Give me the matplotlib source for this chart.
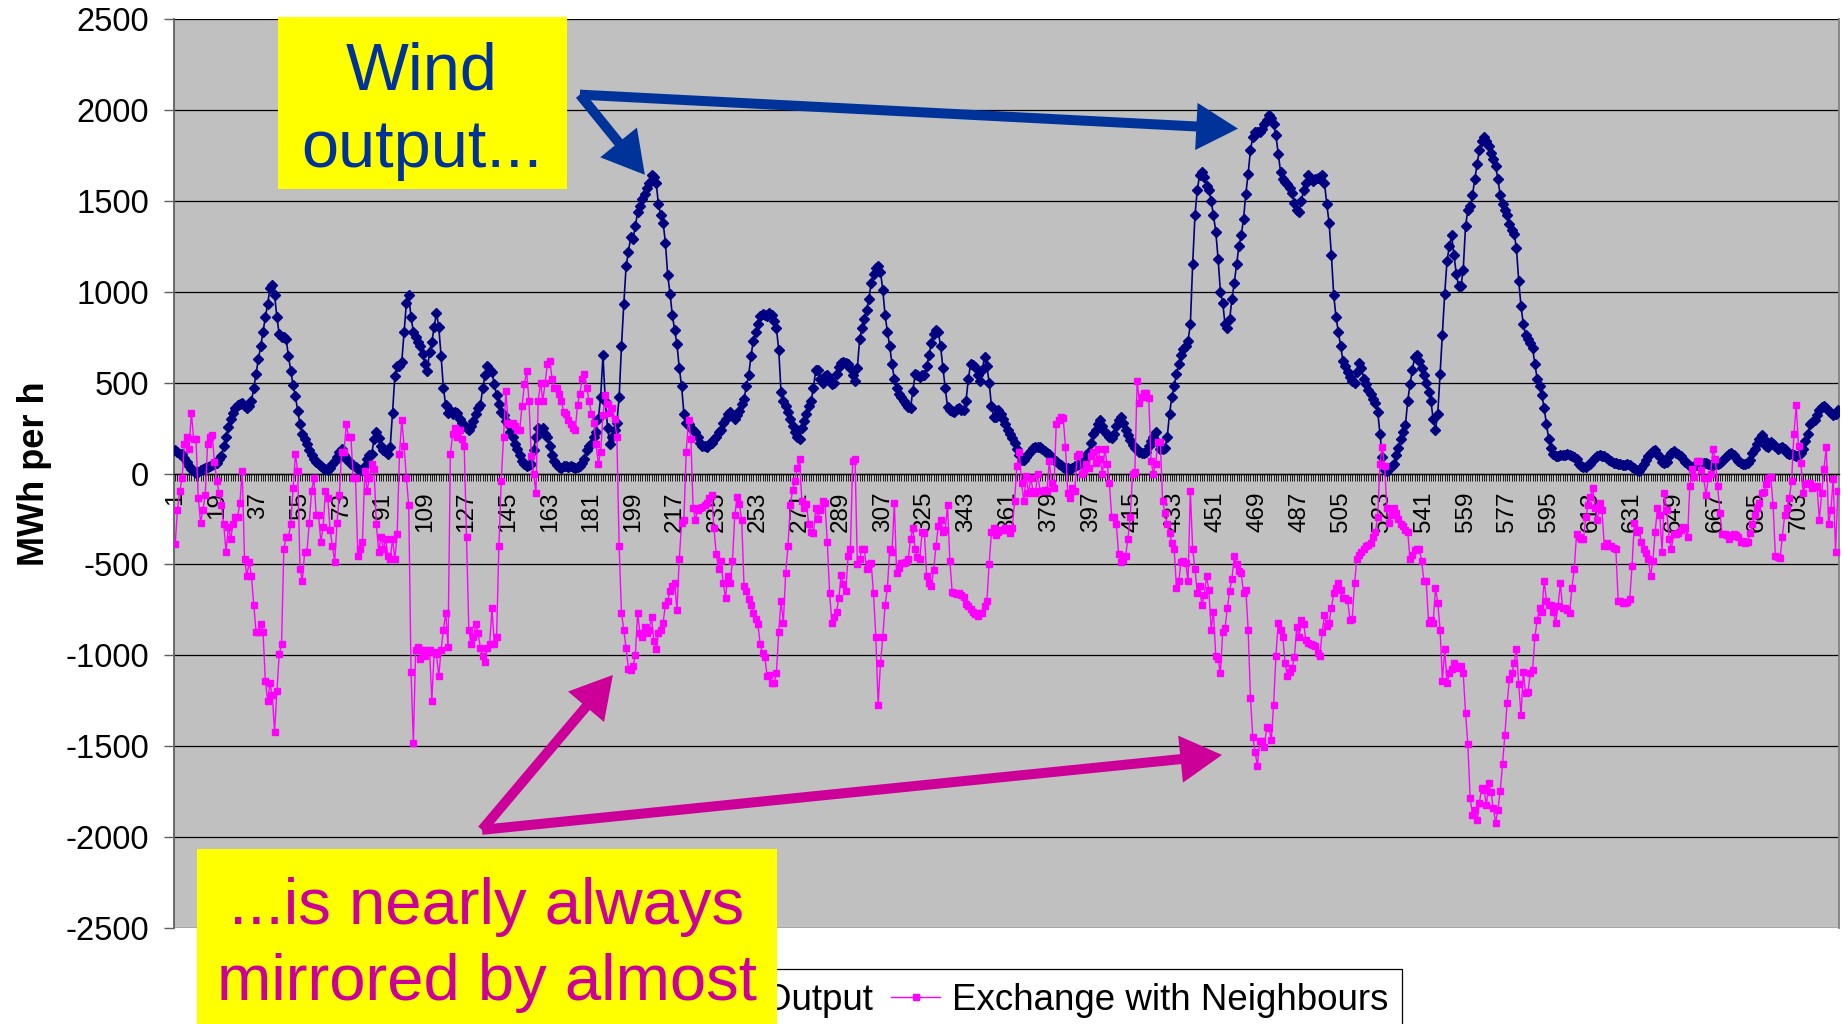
import numpy as np
import matplotlib
matplotlib.use("Agg")
import matplotlib.pyplot as plt
from matplotlib.patches import Rectangle

plt.rcParams["font.family"] = "Liberation Sans"

# hourly values, MWh per h
wind_output = [
    130, 120, 110, 105, 85, 65, 40, 25, 15, 5,
    10, 20, 27, 30, 35, 40, 45, 50, 60, 80,
    95, 150, 200, 255, 300, 335, 360, 375, 380, 390,
    370, 360, 370, 400, 470, 550, 630, 700, 780, 860,
    930, 1020, 1035, 980, 860, 765, 750, 750, 740, 645,
    565, 485, 425, 345, 270, 220, 190, 160, 130, 100,
    80, 65, 55, 40, 32, 25, 20, 32, 50, 67,
    90, 120, 135, 100, 80, 67, 55, 48, 35, 27,
    22, 18, 40, 80, 100, 107, 188, 228, 193, 153,
    130, 120, 107, 148, 335, 535, 590, 590, 615, 780,
    940, 980, 860, 780, 750, 725, 700, 660, 605, 565,
    670, 725, 805, 885, 805, 645, 470, 375, 335, 350,
    330, 340, 335, 300, 280, 265, 250, 240, 260, 290,
    330, 360, 375, 470, 540, 590, 570, 560, 490, 430,
    380, 340, 320, 290, 270, 230, 200, 160, 135, 100,
    70, 50, 40, 45, 55, 130, 200, 250, 240, 250,
    220, 200, 150, 100, 70, 45, 35, 30, 40, 40,
    35, 40, 35, 30, 35, 40, 60, 80, 130, 150,
    160, 200, 230, 300, 420, 650, 400, 250, 160, 200,
    240, 280, 420, 700, 930, 1140, 1220, 1300, 1290, 1360,
    1440, 1470, 1510, 1540, 1570, 1600, 1640, 1630, 1600, 1480,
    1420, 1380, 1270, 1090, 990, 870, 790, 710, 580, 480,
    330, 280, 270, 250, 240, 230, 200, 170, 150, 150,
    145, 160, 170, 190, 200, 230, 240, 280, 300, 330,
    340, 320, 300, 320, 345, 380, 410, 480, 540, 645,
    730, 780, 820, 865, 875, 870, 865, 885, 870, 840,
    800, 680, 450, 400, 370, 340, 300, 260, 230, 200,
    190, 250, 290, 330, 370, 400, 470, 570, 570, 520,
    500, 535, 540, 520, 495, 500, 550, 585, 610, 615,
    610, 600, 580, 540, 510, 580, 740, 800, 850, 900,
    960, 1050, 1100, 1130, 1140, 1110, 1010, 870, 780, 700,
    600, 520, 470, 440, 420, 400, 380, 365, 360, 455,
    545, 540, 530, 540, 540, 590, 650, 720, 770, 790,
    780, 700, 580, 470, 365, 350, 345, 340, 355, 360,
    350, 350, 400, 520, 605, 595, 585, 540, 510, 570,
    640, 590, 500, 370, 310, 310, 350, 330, 300, 270,
    240, 220, 195, 170, 135, 100, 75, 75, 90, 110,
    125, 140, 148, 148, 145, 135, 125, 115, 105, 85,
    75, 70, 55, 45, 35, 30, 28, 25, 30, 40,
    45, 55, 65, 80, 100, 120, 170, 215, 240, 275,
    295, 260, 230, 215, 200, 195, 215, 260, 295, 310,
    280, 240, 210, 185, 155, 140, 135, 120, 115, 112,
    120, 150, 180, 200, 230, 170, 135, 135, 140, 200,
    330, 420, 480, 550, 600, 650, 685, 700, 730, 820,
    1150, 1420, 1560, 1640, 1660, 1630, 1580, 1560, 1500, 1420,
    1330, 1180, 1000, 940, 820, 800, 850, 960, 1050, 1150,
    1250, 1310, 1400, 1540, 1650, 1780, 1850, 1880, 1880, 1880,
    1895, 1920, 1945, 1970, 1955, 1920, 1860, 1760, 1660, 1620,
    1605, 1590, 1570, 1545, 1490, 1450, 1440, 1500, 1560, 1600,
    1640, 1620, 1610, 1620, 1625, 1630, 1640, 1600, 1480, 1380,
    1200, 980, 860, 780, 700, 620, 590, 560, 530, 510,
    500, 560, 610, 580, 520, 490, 460, 440, 410, 390,
    340, 220, 90, 20, 15, 25, 40, 55, 100, 140,
    190, 230, 265, 400, 490, 570, 640, 650, 620, 580,
    540, 500, 450, 400, 300, 240, 330, 550, 760, 990,
    1170, 1250, 1310, 1200, 1100, 1030, 1030, 1120, 1360, 1450,
    1470, 1530, 1620, 1700, 1780, 1830, 1850, 1830, 1800, 1765,
    1730, 1690, 1620, 1530, 1480, 1450, 1420, 1370, 1340, 1320,
    1240, 1060, 920, 820, 760, 740, 720, 690, 600, 520,
    480, 430, 360, 270, 190, 140, 105, 95, 95, 100,
    100, 100, 105, 100, 95, 90, 80, 55, 40, 35,
    38, 45, 55, 75, 85, 95, 100, 98, 94, 85,
    75, 68, 60, 58, 55, 50, 48, 46, 50, 45,
    35, 28, 20, 13, 30, 55, 75, 95, 115, 125,
    128, 110, 90, 65, 60, 65, 95, 115, 125, 115,
    105, 95, 80, 65, 50, 40, 32, 40, 48, 55,
    60, 58, 56, 52, 48, 48, 50, 54, 58, 70,
    85, 94, 105, 113, 100, 85, 70, 60, 55, 52,
    60, 75, 115, 135, 160, 190, 210, 190, 150, 145,
    175, 165, 150, 135, 140, 148, 135, 115, 110, 105,
    100, 95, 100, 115, 135, 180, 215, 270, 285, 295,
    320, 350, 365, 370, 360, 345, 335, 320, 330, 350,
]

exchange_neighbours = [
    -390, -200, -95, -27, 160, 200, 135, 335, 190, 190,
    -135, -270, -200, -120, 160, 200, 210, 65, -40, -107,
    -175, -280, -430, -295, -360, -280, -240, -240, -160, 13,
    -470, -565, -485, -565, -725, -870, -870, -830, -870, -1140,
    -1250, -1155, -1220, -1420, -1195, -995, -940, -415, -350, -350,
    -280, -80, 105, 13, -525, -590, -430, -430, -270, -95,
    -27, -230, -230, -375, -295, -95, -135, -310, -400, -485,
    -270, -120, 120, 120, 270, 200, 200, -27, -27, -455,
    -415, -375, 13, -95, -27, 55, 27, -280, -430, -350,
    -415, -360, -455, -470, -360, -470, -335, 105, 295, 150,
    -27, -175, -1090, -1480, -970, -955, -1020, -970, -1005, -970,
    -970, -1250, -980, -995, -1115, -970, -860, -765, -955, 105,
    215, 250, 200, 240, 190, 150, -350, -860, -940, -900,
    -830, -880, -960, -1005, -1035, -960, -940, -740, -940, -900,
    -400, -40, 200, 455, 280, 270, 280, 260, 240, 240,
    370, 490, 565, 400, 95, 0, -107, 400, 500, 400,
    500, 605, 620, 520, 470, 470, 440, 400, 340, 330,
    295, 270, 250, 240, 375, 440, 520, 550, 470, 400,
    330, 280, 160, 55, 120, 320, 430, 380, 335, 360,
    300, 200, -400, -765, -860, -960, -1075, -1080, -1060, -1000,
    -765, -880, -900, -845, -880, -860, -790, -920, -965, -880,
    -860, -820, -725, -700, -645, -620, -605, -750, -470, -270,
    -255, 120, 295, 190, -190, -255, -200, -190, -185, -175,
    -160, -135, -120, -300, -445, -525, -480, -600, -685, -565,
    -600, -480, -230, -130, -170, -255, -620, -645, -690, -725,
    -765, -800, -830, -940, -990, -1010, -1115, -1110, -1155, -1150,
    -1100, -870, -700, -820, -550, -400, -175, -90, -40, 30,
    80, -150, -190, -170, -280, -320, -330, -190, -250, -200,
    -150, -160, -375, -660, -820, -790, -760, -685, -560, -610,
    -645, -455, -415, 70, 80, -500, -470, -415, -415, -525,
    -500, -495, -660, -900, -1275, -1045, -900, -725, -630, -415,
    -430, -160, -550, -520, -495, -490, -485, -470, -360, -300,
    -415, -460, -470, -320, -330, -565, -600, -620, -530, -400,
    -290, -255, -320, -310, -175, -480, -650, -660, -665, -660,
    -670, -680, -720, -730, -745, -760, -775, -785, -770, -770,
    -730, -700, -500, -320, -300, -340, -320, -310, -310, -300,
    -310, -330, -300, -150, 40, 120, -50, -150, -13, -107,
    -27, -95, -107, 0, -95, -95, -90, -95, 67, -55,
    -80, 270, 295, 310, 305, 148, -107, -135, -80, -95,
    94, 107, 0, 13, 55, 30, 94, 120, 60, 135,
    80, 0, 135, 55, -55, -240, -240, -280, -445, -485,
    -475, -455, -360, -240, 0, 10, 510, 390, 420, 445,
    445, 415, 67, 0, 55, 175, 175, -150, -215, -280,
    -330, -380, -415, -630, -590, -485, -480, -490, -590, -95,
    -415, -525, -660, -620, -725, -670, -565, -640, -860, -760,
    -1005, -1020, -1100, -870, -850, -740, -645, -580, -455, -500,
    -535, -545, -660, -640, -860, -1235, -1450, -1530, -1610, -1470,
    -1470, -1505, -1395, -1400, -1465, -1275, -1005, -820, -860, -900,
    -1045, -1115, -1090, -1070, -1010, -845, -900, -805, -830, -915,
    -930, -940, -945, -950, -990, -1005, -870, -780, -840, -820,
    -740, -660, -630, -605, -640, -685, -685, -695, -805, -800,
    -605, -470, -450, -430, -415, -400, -395, -380, -350, -320,
    -240, 54, 148, 40, -190, -270, -230, -190, -215, -250,
    -280, -290, -310, -320, -470, -450, -420, -415, -415, -480,
    -590, -590, -820, -805, -820, -630, -710, -860, -1140, -965,
    -1155, -1100, -1075, -1040, -1060, -1070, -1060, -1100, -1315, -1490,
    -1785, -1880, -1850, -1905, -1810, -1730, -1740, -1825, -1705, -1750,
    -1840, -1920, -1850, -1745, -1600, -1440, -1260, -1130, -1100, -1045,
    -965, -1160, -1330, -1090, -1210, -1200, -1100, -1080, -900, -805,
    -740, -760, -590, -700, -725, -725, -760, -820, -730, -605,
    -740, -740, -750, -765, -630, -525, -335, -350, -360, -360,
    -240, -175, -130, -80, -190, -255, -160, -200, -400, -380,
    -400, -400, -410, -415, -700, -700, -710, -710, -705, -690,
    -510, -270, -320, -310, -375, -415, -440, -470, -565, -480,
    -320, -190, -230, -430, -107, -200, -360, -415, -335, -335,
    -330, -310, -295, -300, -350, -67, 27, -20, 67, 67,
    20, -27, -120, -27, 0, 135, 80, -67, -215, -335,
    -335, -340, -360, -345, -335, -340, -350, -375, -370, -380,
    -375, -330, -280, -230, -190, -160, -107, -100, -60, -27,
    -20, -175, -455, -460, -465, -350, -230, -190, -135, -40,
    215, 375, 150, 60, -107, -60, -50, -55, -80, -75,
    -70, -255, -110, 27, 148, -280, -200, -30, -430, -95,
]

hours = np.arange(1, len(wind_output) + 1)
label_every = 18
y_ticks = list(range(-2500, 2501, 500))

W, H = 1843, 1024
fig = plt.figure(figsize=(W / 100, H / 100), dpi=100)
ax = fig.add_axes([174 / W, 1 - 928 / H, (1839 - 174) / W, (928 - 19) / H])
ax.set_facecolor("#C0C0C0")

ax.plot(hours, wind_output, color="#000080", lw=1.2, marker="D", ms=4.8,
        mec="#000080", mfc="#000080", label="Wind Output", zorder=3)
ax.plot(hours, exchange_neighbours, color="#FF00FF", lw=1.0, marker="s", ms=5.0,
        mec="#FF00FF", mfc="#FF00FF", label="Exchange with Neighbours", zorder=4)

ax.set_xlim(0.5, len(hours) + 0.5)
ax.set_ylim(-2500, 2500)
ax.set_yticks(y_ticks)
ax.set_yticklabels([str(v) for v in y_ticks])
ax.yaxis.grid(True, color="black", lw=0.9)
ax.set_axisbelow(True)

# category axis crosses the value axis at zero
ax.spines["bottom"].set_position(("data", 0))
ax.spines["bottom"].set_color("black")
ax.spines["bottom"].set_linewidth(1.0)
ax.spines["top"].set_visible(False)
ax.spines["left"].set_color("#606060")
ax.spines["left"].set_linewidth(1.3)
ax.spines["right"].set_color("#808080")
ax.spines["right"].set_linewidth(1.3)

ax.set_xticks(hours)
ax.set_xticklabels([str(h) if (h - 1) % label_every == 0 else "" for h in hours],
                   rotation=90)
ax.tick_params(axis="x", direction="out", length=5, width=0.6, color="black",
               labelsize=17.5, pad=8)
ax.tick_params(axis="y", direction="out", length=7, width=1.0, color="#606060",
               labelsize=23.5, pad=11)

ax.set_ylabel("MWh per h", fontsize=26, fontweight="bold")
ax.yaxis.set_label_coords(-0.073, 0.5)

# callout arrows (hour, MWh)
navy = "#003399"
plum = "#CC0099"
wind_from = (176.0, 2084)
wind_tips = [(204.1, 1643), (460.6, 1897)]
exch_from = (133.7, -1960)
exch_tips = [(190.3, -1108), (453.7, -1548)]
style = "simple,head_length=30,head_width=34,tail_width=7.2"
for tip in wind_tips:
    ax.annotate("", xy=tip, xytext=wind_from, annotation_clip=False,
                arrowprops=dict(arrowstyle=style, mutation_scale=1, color=navy,
                                lw=0, shrinkA=0, shrinkB=0), zorder=6)
for tip in exch_tips:
    ax.annotate("", xy=tip, xytext=exch_from, annotation_clip=False,
                arrowprops=dict(arrowstyle=style, mutation_scale=1, color=plum,
                                lw=0, shrinkA=0, shrinkB=0), zorder=6)

leg = fig.legend(loc="upper right", bbox_to_anchor=(1402 / W, 1 - 969 / H),
                 ncol=2, fontsize=26.5, frameon=True, fancybox=False,
                 edgecolor="black", framealpha=1, borderaxespad=0,
                 handlelength=1.35, handletextpad=0.3, columnspacing=0.5,
                 borderpad=0.38)
leg.get_frame().set_linewidth(0.9)

# yellow call-out boxes
fig.add_artist(Rectangle((278 / W, 1 - 189 / H), 289 / W, 172 / H,
                         transform=fig.transFigure, facecolor="#FFFF00",
                         edgecolor="none", zorder=10))
fig.text(422 / W, 1 - 90 / H, "Wind", ha="center", va="baseline",
         fontsize=48, color=navy, zorder=11)
fig.text(422 / W, 1 - 167 / H, "output...", ha="center", va="baseline",
         fontsize=48, color=navy, zorder=11)

fig.add_artist(Rectangle((197 / W, 0), 580 / W, (1024 - 849) / H,
                         transform=fig.transFigure, facecolor="#FFFF00",
                         edgecolor="none", zorder=10))
fig.text(487 / W, 1 - 924 / H, "...is nearly always", ha="center", va="baseline",
         fontsize=47, color=plum, zorder=11)
fig.text(487 / W, 1 - 1000 / H, "mirrored by almost", ha="center", va="baseline",
         fontsize=47, color=plum, zorder=11)

fig.savefig("out.png", dpi=100)
